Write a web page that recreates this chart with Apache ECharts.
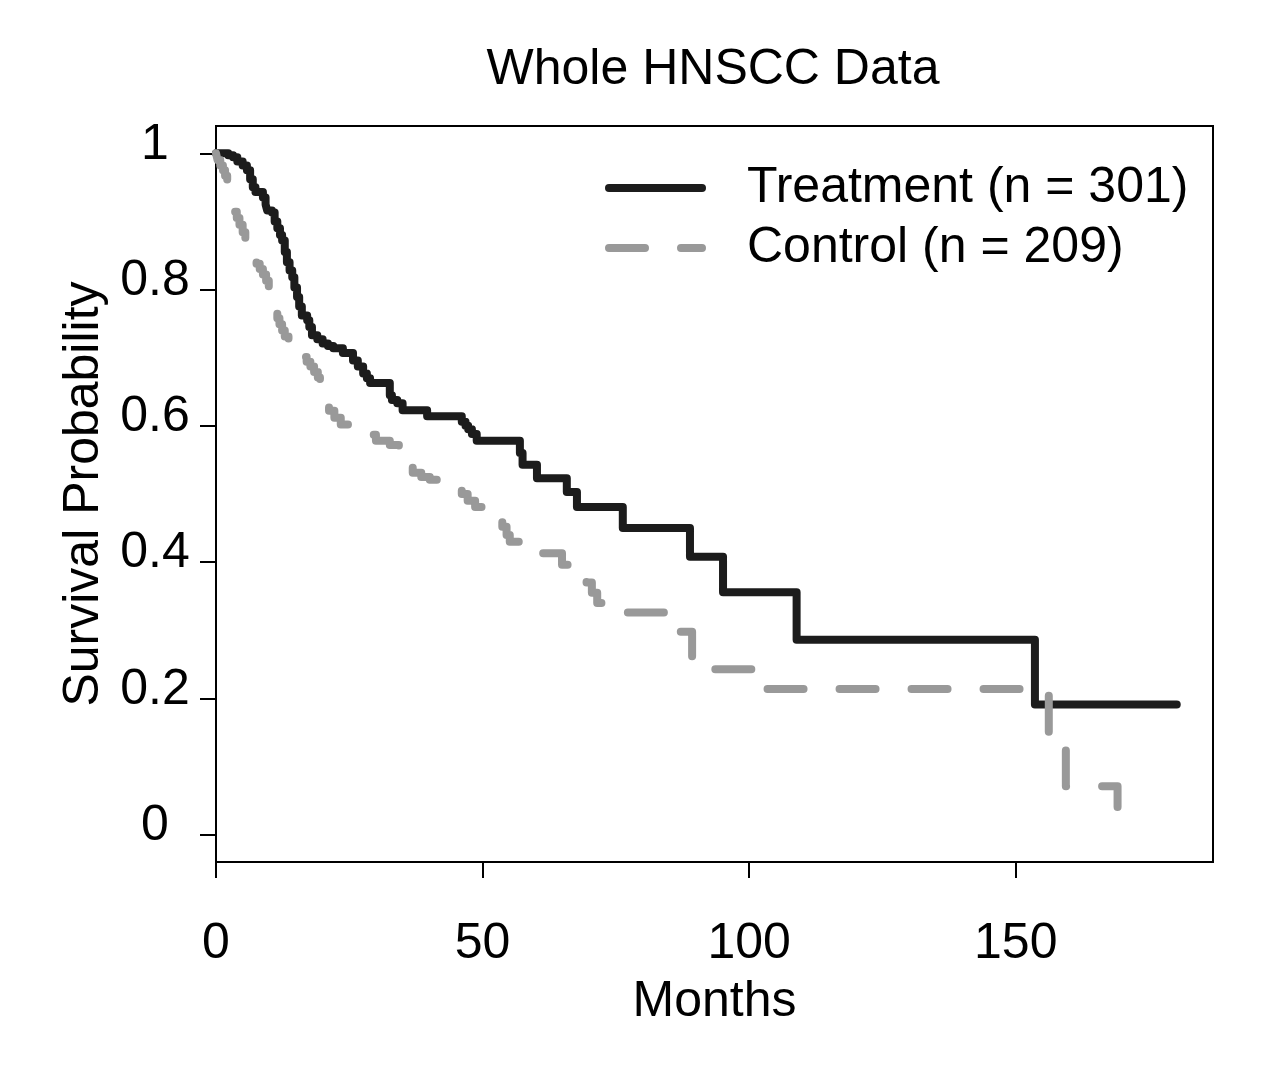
<!DOCTYPE html>
<html>
<head>
<meta charset="utf-8">
<script src="https://cdn.jsdelivr.net/npm/echarts@6/dist/echarts.min.js"></script>
<style>
  html, body { margin: 0; padding: 0; background: #fff; }
  #main { width: 1280px; height: 1080px; }
</style>
</head>
<body>
<div id="main"></div>
<script>
var FONT = '"Liberation Sans", Arial, sans-serif';

// Kaplan-Meier steps: [month, survival after the drop]
var treatment = [
  [0, 1], [2.3, 0.997], [3.2, 0.994], [4, 0.988], [5, 0.982], [5.8, 0.975], [6.4, 0.962],
  [6.9, 0.95], [7.4, 0.943], [8.8, 0.935], [9.3, 0.925], [9.6, 0.916], [10.5, 0.913],
  [11, 0.9], [11.5, 0.89], [12, 0.88], [12.4, 0.872], [12.9, 0.855], [13.3, 0.84],
  [13.8, 0.828], [14.3, 0.818], [14.7, 0.803], [15.2, 0.789], [15.6, 0.775], [16.1, 0.762],
  [17.1, 0.755], [17.5, 0.745], [18, 0.733], [19, 0.727], [20, 0.721], [21, 0.717],
  [22, 0.714], [23.8, 0.707], [25.7, 0.696], [26.6, 0.687], [27.6, 0.677], [28.3, 0.67],
  [28.9, 0.663], [32.6, 0.645], [33, 0.638], [34, 0.633], [35, 0.623], [39.6, 0.614],
  [46.1, 0.606], [46.8, 0.6], [47.3, 0.595], [48, 0.588], [48.9, 0.578], [57, 0.56],
  [57.5, 0.543], [60.2, 0.523], [65.8, 0.503], [67.7, 0.481], [76.3, 0.45], [88.9, 0.408],
  [95.1, 0.356], [108.9, 0.286], [153.6, 0.191], [180.2, 0.191]
];
var control = [
  [0, 1], [0.3, 0.99], [0.8, 0.982], [1.3, 0.975], [1.7, 0.967], [2.1, 0.958], [2.4, 0.945],
  [2.7, 0.932], [3, 0.922], [3.4, 0.914], [3.9, 0.905], [4.4, 0.895], [5, 0.884], [5.5, 0.874],
  [6, 0.864], [6.5, 0.855], [7, 0.847], [7.6, 0.838], [8.2, 0.83], [8.8, 0.822], [9.4, 0.813],
  [9.9, 0.802], [10.3, 0.79], [10.7, 0.778], [11.1, 0.768], [11.5, 0.758], [11.9, 0.749],
  [12.4, 0.74], [12.9, 0.731], [13.6, 0.722], [14.4, 0.715], [15.3, 0.708], [16.3, 0.701],
  [17, 0.694], [17.7, 0.687], [18.4, 0.679], [19.1, 0.671], [19.5, 0.658], [19.8, 0.645],
  [20.4, 0.632], [21.2, 0.622], [22.2, 0.612], [23.4, 0.602], [25, 0.595], [27.9, 0.587],
  [30, 0.578], [32.6, 0.572], [34.3, 0.56], [35.5, 0.545], [36.9, 0.531], [38.5, 0.525],
  [40.1, 0.521], [44.8, 0.51], [46.1, 0.5], [47.2, 0.49], [48.6, 0.481], [50.5, 0.474],
  [52.9, 0.466], [53.7, 0.452], [54.5, 0.44], [55.1, 0.43], [57, 0.42], [59.4, 0.413],
  [64.9, 0.396], [67.5, 0.378], [69.5, 0.37], [70.5, 0.355], [71.5, 0.34], [72.5, 0.326],
  [84.2, 0.298], [89.3, 0.243], [100.5, 0.214], [156.2, 0.143], [159.4, 0.071], [169.1, 0]
];
var seriesNames = ['Treatment (n = 301)', 'Control (n = 209)'];
var xTicks = [0, 50, 100, 150];
var yTicks = [0, 0.2, 0.4, 0.6, 0.8, 1];

var myChart = echarts.init(document.getElementById('main'));
var option = {
  backgroundColor: '#fff',
  animation: false,
  title: {
    text: 'Whole HNSCC Data',
    left: 708,
    top: 40,
    textAlign: 'center',
    textStyle: { fontFamily: FONT, fontSize: 50, fontWeight: 'normal', color: '#000' }
  },
  legend: {
    orient: 'vertical',
    left: 605,
    top: 158,
    padding: 0,
    itemWidth: 93,
    itemHeight: 8,
    itemGap: 0,
    itemStyle: { opacity: 0, color: 'rgba(0,0,0,0)', borderWidth: 0 },
    lineStyle: { width: 8, cap: 'round' },
    textStyle: { fontFamily: FONT, fontSize: 50, color: '#000', lineHeight: 60, padding: [0, 0, 0, 40] },
    data: seriesNames
  },
  grid: {
    left: 216, right: 67, top: 126, bottom: 218,
    show: true, borderColor: '#000', borderWidth: 2, backgroundColor: 'transparent'
  },
  xAxis: {
    type: 'value', min: 0, max: 187,
    name: 'Months', nameLocation: 'middle', nameGap: 115,
    nameTextStyle: { fontFamily: FONT, fontSize: 50, color: '#000' },
    axisLine: { show: false, onZero: false },
    splitLine: { show: false },
    axisTick: { show: true, inside: false, length: 16, customValues: xTicks, lineStyle: { color: '#000', width: 2 } },
    axisLabel: { customValues: xTicks, margin: 57, fontFamily: FONT, fontSize: 50, color: '#000' }
  },
  yAxis: {
    type: 'value', min: -0.04, max: 1.04,
    name: 'Survival Probability', nameLocation: 'middle', nameGap: 106,
    nameTextStyle: { fontFamily: FONT, fontSize: 50, color: '#000' },
    axisLine: { show: false, onZero: false },
    splitLine: { show: false },
    axisTick: { show: true, inside: false, length: 16, customValues: yTicks, lineStyle: { color: '#000', width: 2 } },
    axisLabel: {
      customValues: yTicks, margin: 61, align: 'center', verticalAlign: 'bottom', lineHeight: 17,
      fontFamily: FONT, fontSize: 50, color: '#000'
    }
  },
  series: [
    {
      name: seriesNames[0], type: 'line', step: 'end', data: treatment,
      symbol: 'none', showSymbol: false,
      lineStyle: { color: '#1c1c1c', width: 8, cap: 'round', join: 'round' },
      itemStyle: { color: '#1c1c1c' }
    },
    {
      name: seriesNames[1], type: 'line', step: 'end', data: control,
      symbol: 'none', showSymbol: false,
      lineStyle: { color: '#999999', width: 8, type: [36, 36], cap: 'round', join: 'round' },
      itemStyle: { color: '#999999' }
    }
  ]
};
myChart.setOption(option);
</script>
</body>
</html>
